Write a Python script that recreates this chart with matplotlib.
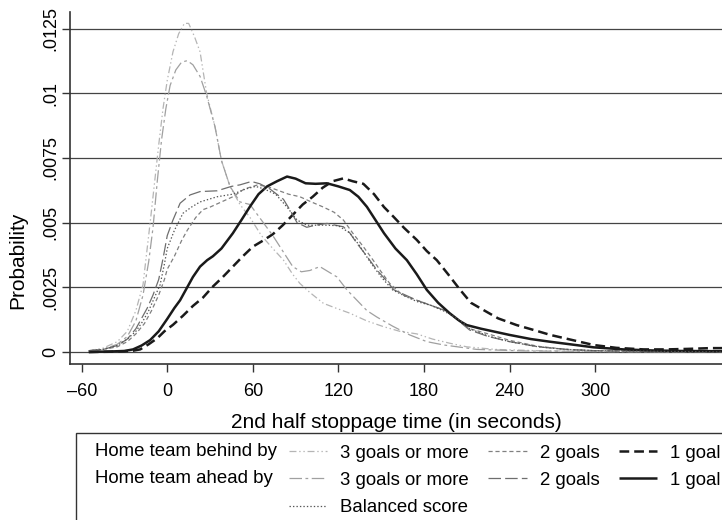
import matplotlib
matplotlib.use("Agg")
import matplotlib.pyplot as plt
from matplotlib.lines import Line2D
from matplotlib.patches import Rectangle

plt.rcParams['font.family'] = ['Liberation Sans', 'DejaVu Sans']
plt.rcParams['lines.scale_dashes'] = False

# ---- data (seconds, probability) ----
behind3_x = [-55, -45, -35, -28, -22, -17, -12, -9, -6, -3, 0, 4, 8, 12, 15, 19, 23, 27.6, 33.5, 38, 44, 51, 58, 66, 74, 81.5, 88, 93, 100, 109.5, 118, 128, 140, 151.6, 163, 175, 186, 198, 210, 230, 260, 300, 389]
behind3_y = [0.00005, 0.00015, 0.0004, 0.0008, 0.0016, 0.0026, 0.0050, 0.0065, 0.0080, 0.0094, 0.0105, 0.0116, 0.0123, 0.0127, 0.0127, 0.0122, 0.0116, 0.0100, 0.0087, 0.0074, 0.0064, 0.0057, 0.0052, 0.0045, 0.0040, 0.00355, 0.0030, 0.00265, 0.0023, 0.00188, 0.0017, 0.0015, 0.0012, 0.00098, 0.0008, 0.0007, 0.0005, 0.00034, 0.0002, 0.0001, 0.00005, 0.00002, 0.00001]

ahead3_x = [-55, -45, -35, -28, -22, -17, -13, -10, -7, -4, -1, 2, 6, 10, 14, 18, 23, 27.6, 33.5, 38, 44, 51, 58, 66, 74, 81, 88, 94, 100, 107, 113, 119, 126, 133, 140, 147, 158, 170, 182, 194, 217, 250, 300, 389]
ahead3_y = [0.00005, 0.0001, 0.0003, 0.0006, 0.0012, 0.0022, 0.0035, 0.0048, 0.0066, 0.0082, 0.0094, 0.0103, 0.0109, 0.0112, 0.01126, 0.0111, 0.01065, 0.0099, 0.0087, 0.0074, 0.0064, 0.0058, 0.0057, 0.0051, 0.0045, 0.0039, 0.0033, 0.0031, 0.00315, 0.0033, 0.0031, 0.0029, 0.0024, 0.0020, 0.0016, 0.00135, 0.0010, 0.00066, 0.0004, 0.00027, 0.0001, 0.00004, 0.00002, 0.0]

behind2_x = [-55, -45, -35, -28, -22, -16, -11, -6, -2, 0, 5, 10, 14, 20, 25, 30, 38, 46, 54, 63, 70, 77, 85, 93, 101, 109.5, 117, 123.5, 130, 137.5, 145, 150, 156, 165, 175, 185, 195, 205, 212, 225, 240, 260, 280, 300, 389]
behind2_y = [0.00003, 0.0001, 0.0002, 0.0004, 0.0007, 0.0011, 0.0016, 0.0022, 0.0028, 0.0032, 0.0037, 0.0043, 0.0047, 0.0052, 0.0055, 0.0056, 0.0058, 0.0060, 0.0063, 0.00645, 0.0064, 0.00626, 0.0061, 0.0060, 0.0058, 0.0056, 0.0054, 0.0051, 0.0046, 0.00407, 0.0035, 0.0031, 0.00265, 0.0022, 0.0020, 0.0018, 0.0016, 0.0012, 0.0009, 0.0007, 0.00045, 0.00022, 0.0001, 0.00005, 0.00002]

ahead2_x = [-55, -45, -35, -28, -22, -18, -14, -10, -6, -3, 0, 4, 9, 16, 23, 35, 45, 51, 59, 65, 72, 81.5, 87, 91, 97.8, 104, 112, 118, 123.5, 128, 133, 140, 147, 153, 159, 167, 175, 185, 194, 200, 205, 212, 225, 240, 260, 280, 300, 340, 389]
ahead2_y = [0.00005, 0.0001, 0.00025, 0.0005, 0.0009, 0.0013, 0.0017, 0.0022, 0.0028, 0.0036, 0.0045, 0.0051, 0.00575, 0.00607, 0.0062, 0.00623, 0.0064, 0.00646, 0.00659, 0.0065, 0.0063, 0.0059, 0.0054, 0.0050, 0.00482, 0.0049, 0.00497, 0.0049, 0.00484, 0.0046, 0.0042, 0.0037, 0.00317, 0.0028, 0.0024, 0.0022, 0.0020, 0.0018, 0.00162, 0.0014, 0.00117, 0.00085, 0.0006, 0.0004, 0.0002, 0.0001, 0.00005, 0.00002, 0.0]

balanced_x = [-55, -45, -35, -28, -22, -17, -13, -9, -5, -2, 0, 5, 11, 17, 23, 35, 46, 55, 62, 68, 76, 84, 91, 98, 105, 112, 120, 128, 135, 142, 150, 158, 167, 175, 185, 194, 200, 206, 212, 225, 240, 260, 280, 300, 389]
balanced_y = [0.00005, 0.0001, 0.00025, 0.0005, 0.0008, 0.0012, 0.0016, 0.0021, 0.0026, 0.0034, 0.0040, 0.0047, 0.00536, 0.0056, 0.0058, 0.0060, 0.0061, 0.0063, 0.0064, 0.0063, 0.0061, 0.0056, 0.0051, 0.0049, 0.0049, 0.0049, 0.00488, 0.0046, 0.0041, 0.0035, 0.0029, 0.0024, 0.00215, 0.00195, 0.0018, 0.00158, 0.0014, 0.0012, 0.0009, 0.00062, 0.0004, 0.0002, 0.0001, 0.00005, 0.0]

behind1_x = [-55, -40, -30, -24, -19, -13, -7, -2, 4, 11, 18, 25, 32, 39, 46, 53, 60, 67, 74, 81, 88, 95, 102, 109, 116, 123.5, 130, 137.5, 145, 152, 158.6, 166, 175, 182, 189, 197, 205.4, 213, 221.8, 232, 245, 257, 268.6, 285, 299, 315, 334, 350, 365, 381, 389]
behind1_y = [0.0, 0.00001, 0.00003, 0.00005, 0.0001, 0.0003, 0.00053, 0.0008, 0.00105, 0.0014, 0.00178, 0.0021, 0.00253, 0.0029, 0.0033, 0.0037, 0.00407, 0.0043, 0.00455, 0.0049, 0.0053, 0.0057, 0.0060, 0.00635, 0.0066, 0.00671, 0.0066, 0.0065, 0.0061, 0.0056, 0.00523, 0.0048, 0.00433, 0.0039, 0.00355, 0.0030, 0.0024, 0.0019, 0.00162, 0.0013, 0.00104, 0.00085, 0.00066, 0.00045, 0.00027, 0.00016, 0.0001, 0.0001, 0.00012, 0.00015, 0.00015]

ahead1_x = [-55, -40, -30, -24, -18, -12, -6, 0, 5, 9, 14, 18, 23, 28, 32, 38, 46, 52, 58, 64, 70, 77, 84, 90, 97, 104, 112, 120, 128, 134, 140, 146, 152, 160, 168, 175, 182, 190, 198, 205, 210, 220, 230, 240, 255, 268, 285, 299, 320, 340, 360, 389]
ahead1_y = [0.0, 0.00002, 0.00004, 0.0001, 0.00025, 0.00046, 0.0008, 0.00128, 0.0017, 0.0020, 0.0025, 0.0029, 0.0033, 0.00355, 0.0037, 0.0040, 0.00459, 0.0051, 0.00562, 0.0061, 0.0064, 0.0066, 0.00678, 0.0067, 0.00652, 0.0065, 0.00652, 0.0064, 0.00626, 0.0060, 0.00561, 0.0051, 0.00459, 0.0040, 0.00355, 0.0030, 0.0024, 0.0019, 0.0015, 0.0012, 0.00104, 0.0009, 0.00078, 0.00066, 0.0005, 0.0004, 0.00028, 0.00018, 0.0001, 0.00006, 0.00004, 0.00003]

xticks = [-60, 0, 60, 120, 180, 240, 300]
yticks = [0, 0.0025, 0.005, 0.0075, 0.01, 0.0125]
ytick_labels = ['0', '.0025', '.005', '.0075', '.01', '.0125']

series = [
    (behind3_x, behind3_y, '3 goals or more', dict(color='#b5b5b5', lw=0.9, dashes=(5, 2, 1, 2, 1, 2))),
    (behind2_x, behind2_y, '2 goals', dict(color='#808080', lw=0.9, dashes=(3, 2))),
    (behind1_x, behind1_y, '1 goal', dict(color='#1a1a1a', lw=1.8, dashes=(7, 3.6))),
    (ahead3_x, ahead3_y, '3 goals or more', dict(color='#a0a0a0', lw=0.9, dashes=(9, 2.5, 2, 2.5))),
    (ahead2_x, ahead2_y, '2 goals', dict(color='#6e6e6e', lw=0.9, dashes=(9, 3))),
    (ahead1_x, ahead1_y, '1 goal', dict(color='#1a1a1a', lw=1.8, linestyle='-')),
    (balanced_x, balanced_y, 'Balanced score', dict(color='#555555', lw=0.9, dashes=(1, 1.5))),
]

W, H = 722, 520
fig = plt.figure(figsize=(W / 100, H / 100), dpi=100)
ax = fig.add_axes([70 / W, 1 - 364 / H, (W - 70) / W, (364 - 12) / H])

for y in yticks:
    ax.axhline(y, color='#444444', lw=0.9, zorder=0)

lines = []
for xs, ys, lab, st in series:
    ln, = ax.plot(xs, ys, solid_capstyle='butt', dash_capstyle='butt', **st)
    lines.append(ln)

ax.set_xlim(-68.2, 389)
ax.set_ylim(-0.000464, 0.01314)
ax.set_xticks(xticks)
ax.set_xticklabels(['\u201360' if t < 0 else str(t) for t in xticks])
ax.set_yticks(yticks)
ax.set_yticklabels(ytick_labels, rotation=90, va='center')
ax.tick_params(axis='both', direction='out', length=6, width=1, color='#333333', labelsize=13)
ax.tick_params(axis='x', pad=8)
ax.tick_params(axis='y', pad=2)
for s in ['top', 'right']:
    ax.spines[s].set_visible(False)
for s in ['left', 'bottom']:
    ax.spines[s].set_color('#333333')
    ax.spines[s].set_linewidth(1.2)
ax.set_xlabel('2nd half stoppage time (in seconds)', fontsize=15, labelpad=9)
ax.yaxis.set_label_coords(18 / W, 0.5, transform=fig.transFigure)
ax.set_ylabel('Probability', fontsize=15, va='center')

# legend frame and row headers
fig.patches.append(Rectangle((76 / W, -0.1), 1.2, (1 - 433 / H) + 0.1, transform=fig.transFigure,
                             fill=False, edgecolor='#333333', lw=1.0))
fig.text(95 / W, 1 - 451.7 / H, 'Home team behind by', fontsize=13.4, va='center')
fig.text(95 / W, 1 - 478.3 / H, 'Home team ahead by', fontsize=13.4, va='center')

blank = Line2D([], [], linestyle='none')
handles = [lines[0], lines[3], lines[6], lines[1], lines[4], blank, lines[2], lines[5], blank]
labels = ['3 goals or more', '3 goals or more', 'Balanced score', '2 goals', '2 goals', ' ', '1 goal', '1 goal', ' ']
fig.legend(handles, labels, ncol=3, frameon=False, loc='upper left',
           bbox_to_anchor=(289 / W, 1 - 444.5 / H), fontsize=13.4, borderpad=0, borderaxespad=0,
           handlelength=2.05, handletextpad=0.7, columnspacing=1.05, labelspacing=0.55)

fig.savefig('out.png', dpi=100)
